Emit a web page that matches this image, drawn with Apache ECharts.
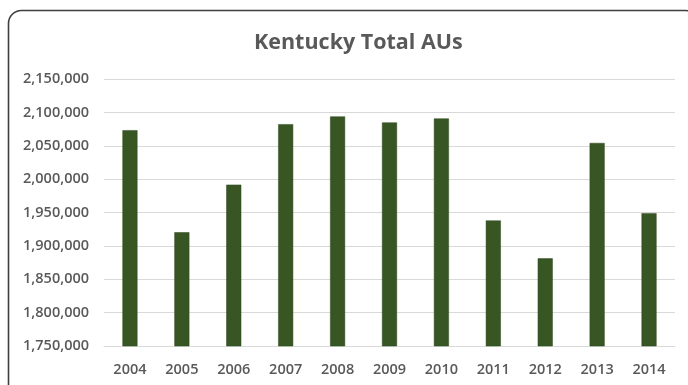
<!DOCTYPE html>
<html>
<head>
<meta charset="utf-8">
<style>
  html, body { margin: 0; padding: 0; background: #ffffff; }
  #chart { width: 688px; height: 385px; }
</style>
<script src="https://cdn.jsdelivr.net/npm/echarts@6/dist/echarts.min.js"></script>
</head>
<body>
<div id="chart"></div>
<script>
// Kentucky total animal units by year
const years = ['2004', '2005', '2006', '2007', '2008', '2009', '2010', '2011', '2012', '2013', '2014'];
const totalAUs = [2073300, 1920400, 1991700, 2082300, 2093900, 2084900, 2090900, 1938000, 1881300, 2054200, 1949000];
const yMin = 1750000;
const yMax = 2150000;
const yStep = 50000;

const chart = echarts.init(document.getElementById('chart'));
const labelFont = '"Open Sans", "Liberation Sans", sans-serif';

chart.setOption({
  animation: false,
  backgroundColor: '#ffffff',
  title: {
    text: 'Kentucky Total AUs',
    left: 249,
    top: 27,
    textStyle: { color: '#595959', fontSize: 21.5, fontWeight: 'bold', fontFamily: '"Open Sans", sans-serif' }
  },
  graphic: [{
    type: 'rect',
    shape: { x: 8.5, y: 10.5, width: 690, height: 400, r: 13 },
    style: { fill: 'none', stroke: '#3f3f3f', lineWidth: 1.6 },
    silent: true
  }],
  grid: { left: 104, right: 13, top: 79, bottom: 39 },
  xAxis: {
    type: 'category',
    data: years,
    axisLine: { show: true, lineStyle: { color: '#d9d9d9', width: 1 } },
    axisTick: { show: false },
    axisLabel: { color: '#595959', fontSize: 14.5, margin: 16, fontFamily: labelFont, fontWeight: 600 }
  },
  yAxis: {
    type: 'value',
    min: yMin,
    max: yMax,
    interval: yStep,
    axisLine: { show: false },
    axisTick: { show: false },
    splitLine: { lineStyle: { color: '#d9d9d9', width: 1 } },
    axisLabel: {
      color: '#595959', fontSize: 14.5, margin: 15, fontFamily: labelFont, fontWeight: 600,
      formatter: v => v.toLocaleString('en-US')
    }
  },
  series: [{
    type: 'bar',
    data: totalAUs,
    barWidth: 15,
    itemStyle: { color: '#375623', borderColor: '#2f4a1e', borderWidth: 0.5 }
  }]
});
</script>
</body>
</html>
